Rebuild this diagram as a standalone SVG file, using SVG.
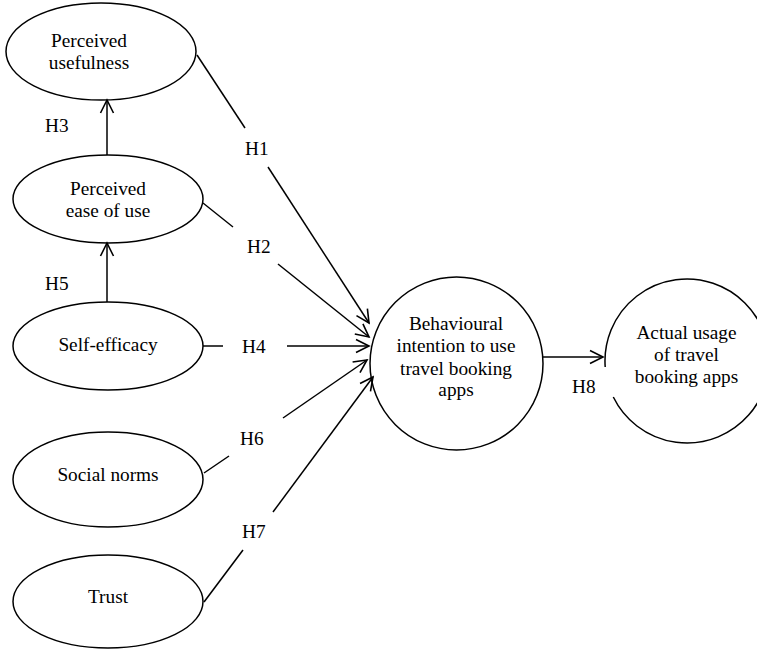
<svg xmlns="http://www.w3.org/2000/svg" width="757" height="650" viewBox="0 0 757 650">
<style>
.node{fill:#fff;stroke:#000;stroke-width:1.5}
.t{font-family:"Liberation Serif","Times New Roman",serif;font-size:19.3px;fill:#000;text-anchor:middle}
.h{font-family:"Liberation Serif","Times New Roman",serif;font-size:19.3px;fill:#000}
.c{stroke:#000;stroke-width:1.5;fill:none}
</style>
<defs>
<marker id="arr" markerUnits="userSpaceOnUse" markerWidth="16" markerHeight="16" refX="13" refY="6.5" orient="auto" overflow="visible">
<path d="M0,0 L13,6.5 L0,13" fill="none" stroke="#000" stroke-width="1.6"/>
</marker>
</defs>
<rect width="757" height="650" fill="#fff"/>
<g id="n-pu"><ellipse class="node" cx="101" cy="51.5" rx="95" ry="48.5"/><text class="t" x="89" y="47">Perceived</text><text class="t" x="89" y="69">usefulness</text></g>
<g id="n-peou"><ellipse class="node" cx="108" cy="199" rx="95" ry="44"/><text class="t" x="108" y="195">Perceived</text><text class="t" x="108" y="217">ease of use</text></g>
<g id="n-se"><ellipse class="node" cx="108" cy="346" rx="95" ry="44"/><text class="t" x="108" y="351">Self-efficacy</text></g>
<g id="n-sn"><ellipse class="node" cx="108" cy="479.5" rx="95" ry="47.5"/><text class="t" x="108" y="481">Social norms</text></g>
<g id="n-tr"><ellipse class="node" cx="108" cy="601.5" rx="95" ry="46.5"/><text class="t" x="108" y="603">Trust</text></g>
<g id="n-bi"><circle class="node" cx="456.5" cy="363.5" r="86.5"/><text class="t" x="456" y="330">Behavioural</text><text class="t" x="456" y="352">intention to use</text><text class="t" x="456" y="374.5">travel booking</text><text class="t" x="456" y="396">apps</text></g>
<g id="n-au"><path class="node" d="M613.3,397 A82,82 0 1 0 605.2,367"/><text class="t" x="686.5" y="339">Actual usage</text><text class="t" x="686.5" y="361">of travel</text><text class="t" x="686.5" y="383">booking apps</text></g>
<g id="connectors">
<line class="c" x1="197" y1="55" x2="245" y2="128"/><line class="c" x1="268" y1="167" x2="369" y2="323" marker-end="url(#arr)"/>
<line class="c" x1="203" y1="203" x2="233" y2="227"/><line class="c" x1="278" y1="264" x2="369" y2="337" marker-end="url(#arr)"/>
<line class="c" x1="107" y1="155" x2="107" y2="100" marker-end="url(#arr)"/>
<line class="c" x1="203" y1="346" x2="223" y2="346"/><line class="c" x1="287" y1="346" x2="369" y2="346" marker-end="url(#arr)"/>
<line class="c" x1="107" y1="302" x2="107" y2="243" marker-end="url(#arr)"/>
<line class="c" x1="204" y1="473" x2="229" y2="456"/><line class="c" x1="283" y1="418" x2="367" y2="360" marker-end="url(#arr)"/>
<line class="c" x1="204" y1="602" x2="243" y2="550"/><line class="c" x1="273" y1="512" x2="373" y2="377" marker-end="url(#arr)"/>
<line class="c" x1="543" y1="357" x2="603" y2="357" marker-end="url(#arr)"/>
</g>
<g id="labels">
<text class="h" x="245" y="155">H1</text>
<text class="h" x="247" y="253">H2</text>
<text class="h" x="45" y="132">H3</text>
<text class="h" x="242" y="353">H4</text>
<text class="h" x="45" y="290">H5</text>
<text class="h" x="240" y="445">H6</text>
<text class="h" x="242" y="538">H7</text>
<text class="h" x="572" y="393">H8</text>
</g>
</svg>
